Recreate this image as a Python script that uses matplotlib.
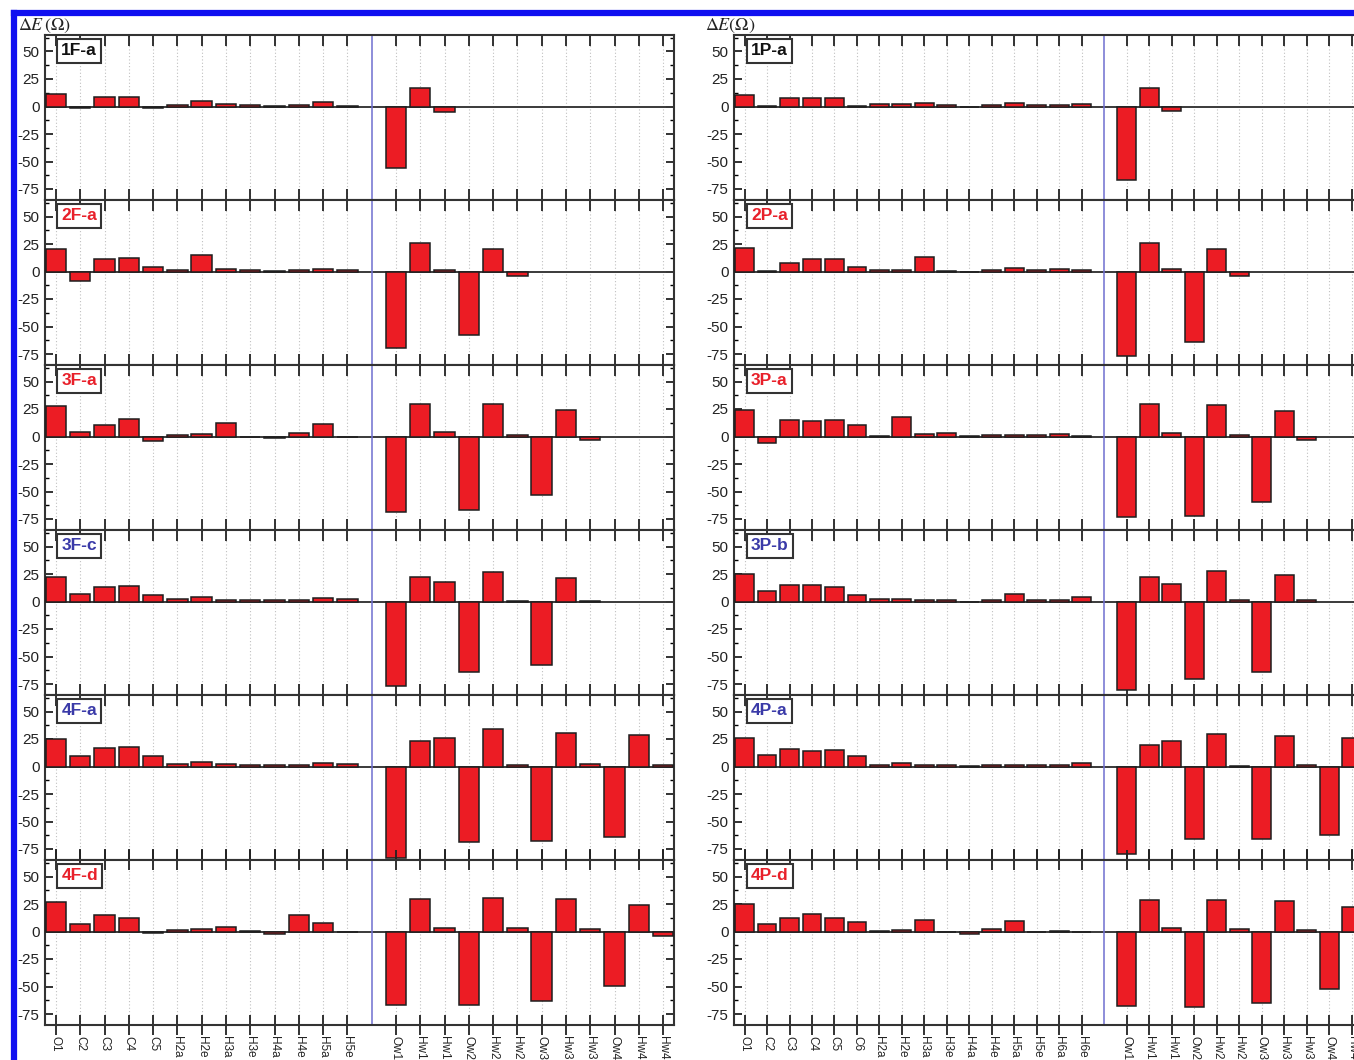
import numpy as np
import matplotlib
matplotlib.use('Agg')
import matplotlib.pyplot as plt
from matplotlib.ticker import MultipleLocator, FixedLocator
from matplotlib.lines import Line2D

plt.rcParams['font.family'] = ['Liberation Sans', 'DejaVu Sans']
plt.rcParams['axes.unicode_minus'] = False
plt.rcParams['mathtext.fontset'] = 'stix'

N = np.nan

# ---------------- category labels ----------------
F_ATOMS = ['O1', 'C2', 'C3', 'C4', 'C5', 'H2a', 'H2e', 'H3a', 'H3e', 'H4a', 'H4e', 'H5a', 'H5e']
P_ATOMS = ['O1', 'C2', 'C3', 'C4', 'C5', 'C6', 'H2a', 'H2e', 'H3a', 'H3e', 'H4a', 'H4e',
           'H5a', 'H5e', 'H6a', 'H6e']
WATER = ['Ow1', 'Hw1', 'Hw1n', 'Ow2', 'Hw2', 'Hw2n', 'Ow3', 'Hw3', 'Hw3n', 'Ow4', 'Hw4', 'Hw4n']

F_NAMES = ['1F-a', '2F-a', '3F-a', '3F-c', '4F-a', '4F-d']
P_NAMES = ['1P-a', '2P-a', '3P-a', '3P-b', '4P-a', '4P-d']

# ---------------- left column (F) values, ΔE (Ω) ----------------
f1a_ring = [11.2, -1.8, 8.5, 8.5, -1.5, 1.5, 4.8, 2.7, 1.0, 0.3, 1.0, 4.5, 0.5]
f1a_water = [-56, 16.4, -5.2, N, N, N, N, N, N, N, N, N]

f2a_ring = [20.3, -8.2, 11.2, 12.1, 4.2, 1.5, 15.2, 2.7, 1.8, 0.9, 1.2, 2.7, 1.5]
f2a_water = [-69.7, 26.0, 1.8, -57.6, 20.3, -4.2, N, N, N, N, N, N]

f3a_ring = [27.3, 3.9, 10.6, 15.8, -4.5, 1.5, 2.7, 12.4, 0.0, -1.0, 3.6, 11.8, 0.0]
f3a_water = [-69.0, 30.0, 3.9, -66.7, 29.1, 1.5, -53.3, 23.9, -3.3, N, N, N]

f3c_ring = [22.7, 6.4, 13.6, 14.5, 6.1, 2.4, 3.9, 1.8, 1.8, 1.2, 1.8, 3.6, 2.4]
f3c_water = [-76.4, 22.1, 17.9, -63.9, 26.7, 0.9, -57.9, 21.8, 0.3, N, N, N]

f4a_ring = [25.2, 9.1, 16.4, 17.3, 10.0, 2.7, 4.2, 2.1, 1.8, 1.2, 1.5, 3.0, 2.4]
f4a_water = [-83.3, 23.3, 25.5, -68.2, 33.9, 1.2, -67.6, 30.6, 2.1, -63.9, 28.2, 1.2]

f4d_ring = [26.7, 6.7, 14.8, 12.7, -1.2, 1.5, 2.7, 4.5, 0.9, -2.4, 14.8, 7.3, 0.0]
f4d_water = [-66.4, 30.0, 3.3, -66.4, 30.9, 3.0, -63.3, 30.0, 2.1, -49.7, 23.9, -4.2]

# ---------------- right column (P) values, ΔE (Ω) ----------------
p1a_ring = [10.9, 0.3, 7.3, 7.3, 7.3, 0.6, 2.1, 2.4, 3.6, 1.5, 0.0, 1.8, 3.6, 1.5, 1.8, 2.4]
p1a_water = [-66.7, 17.0, -4.5, N, N, N, N, N, N, N, N, N]

p2a_ring = [21.2, 0.3, 7.6, 11.8, 11.8, 4.2, 1.8, 1.8, 13.3, 0.9, -0.9, 1.8, 3.0, 1.2, 2.1, 1.8]
p2a_water = [-77.0, 26.0, 2.1, -63.9, 20.6, -4.2, N, N, N, N, N, N]

p3a_ring = [24.5, -6.1, 15.2, 13.9, 15.2, 10.6, 0.3, 17.9, 2.1, 3.3, 0.3, 1.2, 1.2, 1.2, 2.4, 0.6]
p3a_water = [-73.0, 29.7, 3.0, -72.7, 28.2, 1.8, -59.7, 23.3, -3.3, N, N, N]

p3b_ring = [24.8, 9.4, 14.8, 14.8, 13.3, 5.8, 2.4, 2.4, 1.5, 1.2, 0.0, 1.8, 7.0, 1.5, 1.5, 4.2]
p3b_water = [-80.0, 22.1, 15.8, -70.3, 27.6, 1.8, -63.9, 23.9, 1.5, N, N, N]

p4a_ring = [25.8, 10.3, 15.8, 14.5, 15.2, 9.7, 1.8, 3.3, 1.5, 1.5, 0.3, 1.2, 1.8, 1.8, 1.8, 3.0]
p4a_water = [-79.7, 19.7, 23.0, -66.0, 30.0, 0.9, -65.8, 27.9, 1.8, -62.7, 26.0, 1.0]

p4d_ring = [24.8, 7.0, 12.4, 15.5, 12.7, 8.5, 0.9, 1.2, 10.6, 0.0, -2.1, 2.7, 10.0, 0.0, 0.6, 0.0]
p4d_water = [-67.9, 28.8, 3.3, -68.5, 28.8, 2.7, -65.2, 27.9, 1.2, -52.4, 22.4, -3.0]

F_RING = [f1a_ring, f2a_ring, f3a_ring, f3c_ring, f4a_ring, f4d_ring]
F_WATER = [f1a_water, f2a_water, f3a_water, f3c_water, f4a_water, f4d_water]
P_RING = [p1a_ring, p2a_ring, p3a_ring, p3b_ring, p4a_ring, p4d_ring]
P_WATER = [p1a_water, p2a_water, p3a_water, p3b_water, p4a_water, p4d_water]

# ---------------- styles ----------------
RED = '#ec1c24'
EDGE = '#1e1e1e'
BLACK_L = '#111111'
RED_L = '#e8202a'
BLUE_L = '#3a3aa8'
F_COLORS = [BLACK_L, RED_L, RED_L, BLUE_L, BLUE_L, RED_L]
P_COLORS = [BLACK_L, RED_L, RED_L, BLUE_L, BLUE_L, RED_L]

W, H = 1354, 1060
fig = plt.figure(figsize=(W / 100, H / 100), dpi=100)

PANEL_TOP = 35
PANEL_H = 165


def draw_column(left_px, width_px, atoms, rings, waters, names, colors, xlim, ylabel, ylabel_x):
    n = len(atoms)
    ticks = list(range(n)) + list(range(n + 1, n + 1 + len(WATER)))
    tick_labels = atoms + WATER
    axes = []
    for i in range(6):
        top = PANEL_TOP + PANEL_H * i
        ax = fig.add_axes([left_px / W, 1 - (top + PANEL_H) / H, width_px / W, PANEL_H / H])
        vals = np.array(list(rings[i]) + list(waters[i]), dtype=float)
        xs = np.array(ticks, dtype=float)
        m = ~np.isnan(vals)
        ax.bar(xs[m], vals[m], width=0.84, color=RED, edgecolor=EDGE, linewidth=1.1, zorder=3)
        ax.axhline(0, color='#3a3a3a', lw=1.4, zorder=2)
        ax.axvline(n, color='#6f6fd0', lw=1.1, zorder=2)
        ax.set_xlim(*xlim)
        ax.set_ylim(-85, 65)
        ax.xaxis.set_major_locator(FixedLocator(ticks))
        ax.yaxis.set_major_locator(MultipleLocator(25))
        ax.yaxis.set_minor_locator(MultipleLocator(12.5))
        ax.grid(axis='x', linestyle=(0, (1, 2)), color='#c0c0c0', lw=0.8, zorder=0)
        ax.tick_params(axis='y', which='major', direction='in', length=6, width=1.3,
                       left=True, right=True, labelsize=11, colors='#222222', pad=4)
        ax.tick_params(axis='y', which='minor', direction='in', length=3, width=1.0,
                       left=True, right=True)
        ax.tick_params(axis='x', which='major', direction='in', length=8, width=1.3,
                       top=True, bottom=True, labelbottom=False, colors='#222222')
        for sp in ax.spines.values():
            sp.set_linewidth(1.5)
            sp.set_color('#333333')
        ax.text(0.026, 0.905, names[i], transform=ax.transAxes, fontsize=12.5,
                fontweight='bold', color=colors[i], ha='left', va='center',
                bbox=dict(boxstyle='square,pad=0.25', facecolor='white',
                          edgecolor='#333333', linewidth=1.5), zorder=5)
        axes.append(ax)
    last = axes[-1]
    last.tick_params(axis='x', which='major', direction='inout', length=14, labelbottom=True,
                     labelsize=8.5, pad=1)
    last.set_xticklabels(tick_labels, rotation=-90, ha='center', va='top')
    fig.text(ylabel_x / W, 1 - 30 / H, ylabel, fontsize=13, ha='left', va='baseline',
             color='#222222')
    return axes


draw_column(45, 629, F_ATOMS, F_RING, F_WATER, F_NAMES, F_COLORS, (-0.45, 25.45),
            r'$\Delta E\,(\Omega)$', 18)
draw_column(734, 650.6, P_ATOMS, P_RING, P_WATER, P_NAMES, P_COLORS, (-0.47, 28.47),
            r'$\Delta E(\Omega)$', 705)

# blue frame of the original figure
fig.add_artist(Line2D([13.5 / W, 1.02], [1 - 12.5 / H, 1 - 12.5 / H],
                      transform=fig.transFigure, color='#1010f0', lw=4.5))
fig.add_artist(Line2D([13.5 / W, 13.5 / W], [-0.02, 1 - 12.5 / H],
                      transform=fig.transFigure, color='#1010f0', lw=4.5))

fig.savefig('out.png', dpi=100, facecolor='white')
